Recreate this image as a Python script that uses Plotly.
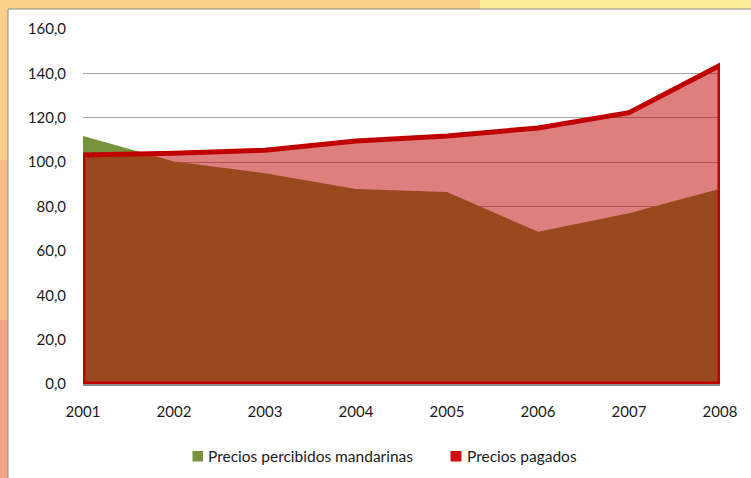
"""
Precios percibidos mandarinas vs precios pagados (índice), 2001-2008
"""

import plotly.graph_objects as go

# Data
years = [2001, 2002, 2003, 2004, 2005, 2006, 2007, 2008]
percibidos = [111.8, 100.3, 95.0, 87.9, 86.5, 68.6, 77.0, 88.0]
pagados = [103.2, 104.0, 105.4, 109.5, 111.8, 115.4, 122.3, 143.6]
y_ticks = [0, 20, 40, 60, 80, 100, 120, 140, 160]
series_names = ['Precios percibidos mandarinas', 'Precios pagados']

W, H = 751, 478
L, R, T, B = 83, 31, 29, 94

GREEN = '#77933C'
RED = '#C00000'

fig = go.Figure()

# Green series: opaque area down to zero
fig.add_trace(go.Scatter(
    x=years, y=percibidos,
    mode='none',
    fill='tozeroy',
    fillcolor=GREEN,
    name=series_names[0],
    showlegend=False,
))

# Red series: closed polygon so the border wraps the whole area
poly_x = [years[0]] + years + [years[-1], years[0]]
poly_y = [0] + pagados + [0, 0]
fig.add_trace(go.Scatter(
    x=poly_x, y=poly_y,
    mode='lines',
    fill='toself',
    fillcolor='rgba(190,0,0,0.5)',
    line=dict(color=RED, width=5),
    name=series_names[1],
    showlegend=False,
))


# pixel -> paper coordinates
def px_x(p):
    return (p - L) / (W - L - R)


def px_y(p):
    return (H - B - p) / (H - T - B)


def bg_rect(x0, y0, x1, y1, color, line=None):
    fig.add_shape(
        type='rect', xref='paper', yref='paper',
        x0=px_x(x0), x1=px_x(x1), y0=px_y(y1), y1=px_y(y0),
        fillcolor=color, line=line or dict(width=0),
        layer='below'
    )


# orange frame around the white panel
bg_rect(480, -2, 760, 12, '#FCEF9A')
bg_rect(-2, 160, 9, 320, '#F5BC87')
bg_rect(-2, 320, 9, 480, '#EFA586')
# white panel
bg_rect(8, 9, 760, 490, 'white', dict(color='#8A8A8A', width=1))

# manual legend (small squares like the original)
legend_items = [
    (192.5, 203, 206, GREEN, series_names[0]),
    (450.5, 461.5, 465, '#CC1010', series_names[1]),
]
for sx0, sx1, tx, col, label in legend_items:
    fig.add_shape(
        type='rect', xref='paper', yref='paper',
        x0=px_x(sx0), x1=px_x(sx1), y0=px_y(461.5), y1=px_y(451),
        fillcolor=col, line=dict(width=0),
    )
    fig.add_annotation(
        xref='paper', yref='paper',
        x=px_x(tx), y=px_y(456),
        xanchor='left', yanchor='middle',
        text=label, showarrow=False,
        font=dict(size=15.5, color='#1a1a1a'),
    )

fig.update_layout(
    width=W, height=H,
    margin=dict(l=L, r=R, t=T, b=B, autoexpand=False),
    paper_bgcolor='#FAD08A',
    plot_bgcolor='rgba(0,0,0,0)',
    separators=',.',
    font=dict(family='Lato, Open Sans, sans-serif', size=15, color='#1a1a1a'),
    xaxis=dict(
        range=[2001, 2008],
        tickvals=years,
        ticktext=[str(y) for y in years],
        showgrid=False,
        zeroline=False,
        showline=True,
        linecolor='#8C8C8C',
        linewidth=2,
        ticks='',
        ticklabelstandoff=13,
        tickfont=dict(size=15),
    ),
    yaxis=dict(
        range=[0, 160],
        tickvals=y_ticks,
        tickformat='.1f',
        showgrid=True,
        gridcolor='#A3A3A3',
        gridwidth=1.3,
        zeroline=False,
        showline=False,
        ticks='',
        ticklabelstandoff=16,
        tickfont=dict(size=15),
    ),
    showlegend=False,
)

fig.write_html(
    "out.html",
    config={'displayModeBar': False},
    post_script="document.body.style.margin='0px';",
)
